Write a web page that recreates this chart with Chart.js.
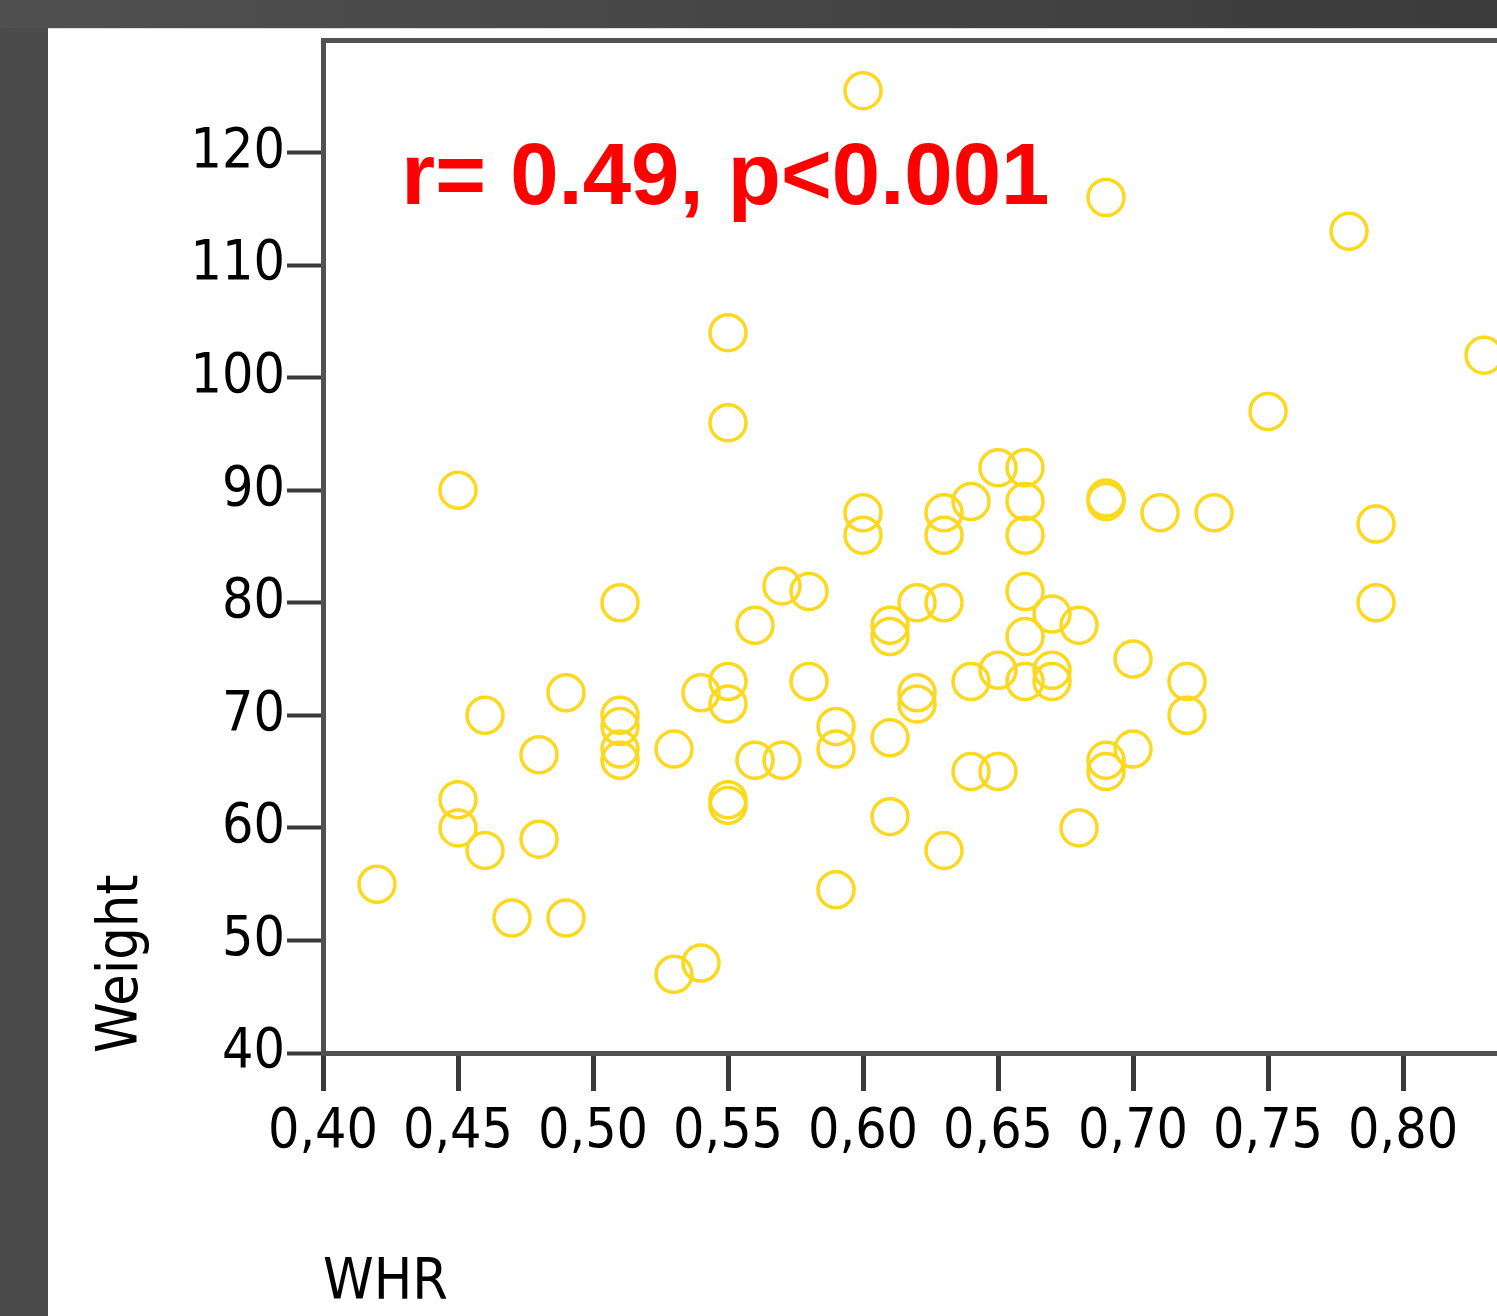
<!DOCTYPE html>
<html>
<head>
<meta charset="utf-8">
<script src="https://cdn.jsdelivr.net/npm/chart.js@4.4.1/dist/chart.umd.min.js"></script>
<style>
  html, body { margin: 0; padding: 0; width: 1497px; height: 1316px; overflow: hidden; background: #4b4b4b; }
  #topband { position: absolute; left: 0; top: 0; width: 1497px; height: 28px; background: linear-gradient(to right, #505050, #3b3b3b); }
  #panel { position: absolute; left: 48px; top: 28px; width: 1449px; height: 1288px; background: #ffffff; border-top: 1px solid #dcdcdc; box-sizing: border-box; }
  #chart { position: absolute; left: 48px; top: 28px; }
</style>
</head>
<body>
<div id="topband"></div>
<div id="panel"></div>
<canvas id="chart" width="1449" height="1288"></canvas>
<script>
// ---- data ----
const whr = [
  0.42,
  0.45, 0.45, 0.45,
  0.46, 0.46,
  0.47,
  0.48, 0.48,
  0.49, 0.49,
  0.51, 0.51, 0.51, 0.51, 0.51,
  0.53, 0.53,
  0.54, 0.54,
  0.55, 0.55, 0.55, 0.55, 0.55, 0.55,
  0.56, 0.56,
  0.57, 0.57,
  0.58, 0.58,
  0.59, 0.59, 0.59,
  0.60, 0.60, 0.60,
  0.61, 0.61, 0.61, 0.61,
  0.62, 0.62, 0.62,
  0.63, 0.63, 0.63, 0.63,
  0.64, 0.64, 0.64,
  0.65, 0.65, 0.65,
  0.66, 0.66, 0.66, 0.66, 0.66, 0.66,
  0.67, 0.67, 0.67,
  0.68, 0.68,
  0.69, 0.69, 0.69, 0.69, 0.69,
  0.70, 0.70,
  0.71,
  0.72, 0.72,
  0.73,
  0.75,
  0.78,
  0.79, 0.79,
  0.83
];
const weight = [
  55,
  90, 62.5, 60,
  70, 58,
  52,
  66.5, 59,
  72, 52,
  80, 70, 69, 67, 66,
  67, 47,
  72, 48,
  104, 96, 73, 71, 62.5, 62,
  78, 66,
  81.5, 66,
  81, 73,
  69, 67, 54.5,
  125.5, 88, 86,
  78, 77, 68, 61,
  80, 72, 71,
  88, 86, 80, 58,
  89, 73, 65,
  92, 74, 65,
  92, 89, 86, 81, 77, 73,
  79, 74, 73,
  78, 60,
  116, 89, 89.3, 66, 65,
  75, 67,
  88,
  73, 70,
  88,
  97,
  113,
  87, 80,
  102
];
const xTickValues = [0.40, 0.45, 0.50, 0.55, 0.60, 0.65, 0.70, 0.75, 0.80];
const yTickValues = [40, 50, 60, 70, 80, 90, 100, 110, 120];
const xTitle = 'WHR';
const yTitle = 'Weight';
const annotationText = 'r= 0.49, p<0.001';
const annotationAnchor = [0.4290, 115.4]; // data coords of text baseline start

// ---- chart ----
const AXIS = '#515151';
const TICK = '#3a3a3a';
const FONT = '"DejaVu Sans Condensed", "DejaVu Sans", sans-serif';
Chart.defaults.font.family = FONT;
Chart.defaults.color = '#000000';

const points = whr.map((x, i) => ({ x: x, y: weight[i] }));

const annotationPlugin = {
  id: 'corrText',
  afterDatasetsDraw(chart) {
    const ctx = chart.ctx;
    const xs = chart.scales.x, ys = chart.scales.y;
    ctx.save();
    ctx.font = 'bold 87px "Liberation Sans", Arial, sans-serif';
    ctx.fillStyle = '#ff0000';
    ctx.textBaseline = 'alphabetic';
    ctx.textAlign = 'left';
    ctx.fillText(annotationText, xs.getPixelForValue(annotationAnchor[0]), ys.getPixelForValue(annotationAnchor[1]));
    ctx.restore();
  }
};

new Chart(document.getElementById('chart'), {
  type: 'scatter',
  data: {
    datasets: [{
      data: points,
      pointStyle: 'circle',
      pointRadius: 18,
      pointHoverRadius: 18,
      borderWidth: 3.5,
      borderColor: 'rgb(252,216,30)',
      backgroundColor: 'rgba(0,0,0,0)',
      clip: false
    }]
  },
  options: {
    responsive: false,
    devicePixelRatio: 1,
    animation: false,
    events: [],
    layout: { padding: 0, autoPadding: false },
    plugins: { legend: { display: false }, tooltip: { enabled: false } },
    scales: {
      x: {
        type: 'linear',
        position: 'bottom',
        min: 0.40,
        max: 0.8348,
        afterBuildTicks: (s) => { s.ticks = xTickValues.map(v => ({ value: v })); },
        afterFit: (s) => { s.height = 263; s.paddingLeft = 0; s.paddingRight = 0; },
        ticks: {
          font: { size: 55 },
          color: '#000',
          padding: 9,
          maxRotation: 0,
          autoSkip: false,
          callback: (v) => Number(v).toFixed(2).replace('.', ',')
        },
        grid: { display: true, drawOnChartArea: false, drawTicks: true, tickLength: 38, tickWidth: 5, tickColor: TICK, color: AXIS },
        border: { display: true, width: 5, color: AXIS },
        title: { display: true, text: xTitle, align: 'start', font: { size: 57, lineHeight: 1.1 }, color: '#000', padding: { top: 0, bottom: 0 } }
      },
      xTop: {
        type: 'linear',
        position: 'top',
        min: 0, max: 1,
        afterFit: (s) => { s.height = 12; s.paddingLeft = 0; s.paddingRight = 0; },
        ticks: { display: false },
        grid: { display: false, drawTicks: false },
        border: { display: true, width: 5, color: AXIS }
      },
      y: {
        type: 'linear',
        position: 'left',
        min: 40,
        max: 130,
        afterBuildTicks: (s) => { s.ticks = yTickValues.map(v => ({ value: v })); },
        afterFit: (s) => { s.width = 275; s.paddingTop = 0; s.paddingBottom = 0; },
        ticks: { font: { size: 55 }, color: '#000', padding: 2, autoSkip: false },
        grid: { display: true, drawOnChartArea: false, drawTicks: true, tickLength: 36, tickWidth: 4, tickColor: TICK, color: AXIS },
        border: { display: true, width: 5, color: AXIS },
        title: { display: true, text: yTitle, align: 'start', font: { size: 57 }, color: '#000', padding: { top: 40, bottom: 0 } }
      }
    }
  },
  plugins: [annotationPlugin]
});
</script>
</body>
</html>
